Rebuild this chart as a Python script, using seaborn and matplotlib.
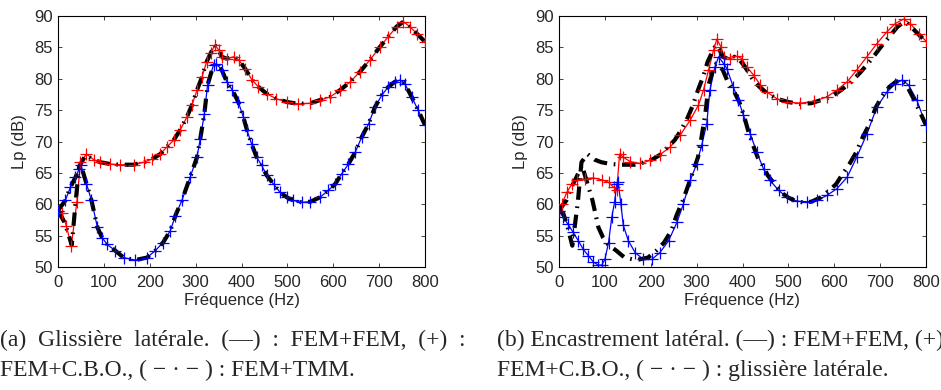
import matplotlib
matplotlib.use("Agg")
import matplotlib.pyplot as plt
import seaborn as sns
import pandas as pd

# ---- data: (a) glissière latérale ----
fa_red = [0, 9, 18, 29, 41, 49, 62, 78, 92, 114, 136, 165, 187, 205, 223, 237, 252, 266, 281, 292,
          303, 314, 324, 333, 342, 350, 357, 368, 383, 394, 408, 423, 437, 455, 476, 499, 524, 550,
          571, 593, 615, 637, 658, 680, 702, 720, 738, 753, 767, 782, 800]
La_red = [59, 58.6, 56.6, 53.4, 60.3, 66.7, 68, 67.1, 66.7, 66.4, 66.3, 66.3, 66.7, 67.2, 68, 69.1,
          70.2, 71.8, 73.9, 75.8, 78.2, 80.3, 82.7, 84.1, 85.4, 84.6, 83.5, 83.2, 83.5, 83, 81.6,
          79.8, 78.7, 77.6, 76.8, 76.3, 76, 76.1, 76.6, 77.1, 78.2, 79.5, 81.1, 83, 85.1, 86.7,
          88.3, 89.1, 88.3, 87.2, 85.9]
fa_blue = [0, 16, 27, 38, 46, 50, 62, 73, 86, 96, 107, 125, 143, 168, 194, 212, 229, 245, 256, 270,
           288, 303, 310, 319, 326, 339, 345, 357, 368, 380, 393, 404, 412, 422, 433, 444, 455, 470,
           484, 499, 513, 531, 550, 571, 589, 604, 618, 633, 648, 662, 677, 691, 706, 720, 734, 746,
           756, 771, 785, 800]
La_blue = [59, 60.6, 62.7, 64.3, 65.6, 66.2, 63.3, 60.6, 56.3, 54.7, 53.6, 52.6, 51.5, 51.1, 51.5,
           52.6, 53.9, 55.8, 58.2, 60.6, 64.3, 67.5, 70.4, 74.4, 79, 82.2, 82.4, 81.4, 79.5, 78.2,
           76.3, 73.9, 71.8, 69.6, 67.5, 66.2, 64.6, 63.2, 61.9, 61.1, 60.6, 60.3, 60.4, 61.1, 62.2,
           63.2, 64.8, 66.4, 68.3, 70.7, 72.8, 75.5, 77.4, 78.7, 79.5, 79.8, 79.2, 77.1, 75, 72.6]
# FEM+TMM (black) in (a)
fa_tmm_up = [0, 15, 30, 38, 46, 60, 78, 92, 114, 136, 165, 187, 205, 223, 237, 252, 266, 281, 292,
             303, 314, 324, 333, 342, 350, 357, 368, 383, 394, 408, 423, 437, 455, 476, 499, 524,
             550, 571, 593, 615, 637, 658, 680, 702, 720, 738, 753, 767, 782, 800]
La_tmm_up = [59, 57, 53.5, 60, 66, 67.8, 67.1, 66.7, 66.4, 66.3, 66.3, 66.7, 67.2, 68, 69.1, 70.2,
             71.8, 73.9, 75.8, 78.2, 80.3, 82.7, 84.1, 85.4, 84.6, 83.5, 83.2, 83.5, 83, 81.6, 79.8,
             78.7, 77.6, 76.8, 76.3, 76, 76.1, 76.6, 77.1, 78.2, 79.5, 81.1, 83, 85.1, 86.7, 88.3,
             89.1, 88.3, 87.2, 85.9]
fa_tmm_lo = fa_blue
La_tmm_lo = La_blue

# ---- data: (b) encastrement latéral ----
fb_red = [0, 6, 17, 28, 39, 57, 75, 93, 108, 119, 126, 132, 140, 155, 177, 199, 220, 242, 264, 286,
          304, 315, 326, 337, 344, 353, 360, 373, 388, 399, 409, 424, 439, 453, 475, 497, 526, 555,
          584, 606, 628, 649, 671, 693, 715, 733, 751, 766, 784, 800]
Lb_red = [59, 60, 61.9, 63.2, 63.8, 64.1, 64.2, 63.9, 63.5, 62.7, 62.3, 68, 67.5, 66.8, 66.5, 67,
          67.9, 69.1, 71, 73.4, 75.8, 78.2, 81.4, 84.6, 86.3, 85.1, 83.5, 83.2, 83.6, 83.2, 81.9,
          80.6, 79, 77.9, 76.8, 76.3, 76.1, 76.4, 77.1, 78.2, 79.5, 81.4, 83.5, 85.6, 87.5, 88.8,
          89.5, 88.8, 87.2, 86]
fb_blue = [0, 9, 20, 31, 42, 53, 64, 75, 86, 93, 100, 108, 115, 121, 126, 129, 135, 140, 151, 166,
           184, 202, 220, 239, 257, 271, 286, 300, 311, 322, 329, 340, 348, 359, 366, 380, 391, 402,
           417, 431, 446, 460, 479, 497, 519, 540, 562, 584, 606, 628, 649, 671, 693, 715, 733, 748,
           762, 780, 800]
Lb_blue = [59, 57.9, 56.8, 55.5, 54.2, 52.8, 51.8, 50.8, 50.3, 50.3, 51.2, 53.9, 57.9, 60.3, 63.2,
           63.5, 60, 56.7, 54.2, 52.3, 51.2, 51.2, 52.3, 54.2, 57.1, 60, 63.8, 66.4, 69.4, 72.8,
           78.2, 81.9, 83.5, 82.4, 81.6, 78.7, 76.6, 74.2, 71.2, 68.3, 65.6, 63.8, 62.2, 61.1, 60.5,
           60.4, 60.6, 61.4, 62.5, 64.3, 67.5, 71.2, 75.5, 77.9, 79.2, 79.8, 79, 76.6, 72.6]

xticks = [0, 100, 200, 300, 400, 500, 600, 700, 800]
yticks = [50, 55, 60, 65, 70, 75, 80, 85, 90]
xlabel = "Fréquence (Hz)"
ylabel = "Lp (dB)"
cap_a = ["(a)  Glissière  latérale.  (—)  :  FEM+FEM,  (+)  :",
         "FEM+C.B.O., ( \u2212 \u00b7 \u2212 ) : FEM+TMM."]
cap_b = ["(b) Encastrement latéral. (—) : FEM+FEM, (+) :",
         "FEM+C.B.O., ( \u2212 \u00b7 \u2212 ) : glissière latérale."]

sns.set_theme(style="ticks")
plt.rcParams["font.family"] = ["Liberation Sans", "DejaVu Sans"]
plt.rcParams["xtick.direction"] = "in"
plt.rcParams["ytick.direction"] = "in"

fig = plt.figure(figsize=(9.41, 3.90), dpi=100)
axA = fig.add_axes([58 / 941, 1 - 267 / 390, 367 / 941, 251 / 390])
axB = fig.add_axes([559 / 941, 1 - 267 / 390, 367 / 941, 251 / 390])

DASH = (0, (3.2, 1.6, 0.4, 1.6))


def draw(ax, curves, black):
    for f, L, c in curves:
        d = pd.DataFrame({"f": f, "L": L})
        sns.lineplot(data=d, x="f", y="L", ax=ax, color=c, linewidth=0.9, sort=False,
                     estimator=None, zorder=3)
    for f, L in black:
        d = pd.DataFrame({"f": f, "L": L})
        sns.lineplot(data=d, x="f", y="L", ax=ax, color="black", linewidth=3.0, sort=False,
                     estimator=None, linestyle=DASH, zorder=4,
                     solid_capstyle="butt", dash_capstyle="butt")
    for f, L, c in curves:
        d = pd.DataFrame({"f": f, "L": L})
        sns.scatterplot(data=d, x="f", y="L", ax=ax, color=c, marker="+", s=65,
                        linewidth=0.9, zorder=5)
    ax.set_xlim(0, 800)
    ax.set_ylim(50, 90)
    ax.set_xticks(xticks)
    ax.set_yticks(yticks)
    ax.tick_params(labelsize=12, length=3, width=0.6, top=True, right=True)
    ax.tick_params(axis="x", pad=6)
    ax.tick_params(axis="y", pad=4)
    ax.set_xlabel(xlabel, fontsize=12, labelpad=2)
    ax.set_ylabel(ylabel, fontsize=12, labelpad=5)
    for s in ax.spines.values():
        s.set_visible(True)
        s.set_linewidth(0.8)
        s.set_color("black")


draw(axA, [(fa_red, La_red, "#ff0000"), (fa_blue, La_blue, "#0000ff")],
     [(fa_tmm_up, La_tmm_up), (fa_tmm_lo, La_tmm_lo)])
draw(axB, [(fb_red, Lb_red, "#ff0000"), (fb_blue, Lb_blue, "#0000ff")],
     [(fa_red, La_red), (fa_blue, La_blue)])

serif = ["Liberation Serif", "DejaVu Serif"]
fs = 17
fig.text(0 / 941, 1 - 340 / 390, cap_a[0], family=serif, fontsize=fs, va="center", ha="left")
fig.text(0 / 941, 1 - 370 / 390, cap_a[1], family=serif, fontsize=fs, va="center", ha="left")
fig.text(497 / 941, 1 - 340 / 390, cap_b[0], family=serif, fontsize=fs, va="center", ha="left")
fig.text(497 / 941, 1 - 370 / 390, cap_b[1], family=serif, fontsize=fs, va="center", ha="left")

fig.savefig("out.png", dpi=100)
